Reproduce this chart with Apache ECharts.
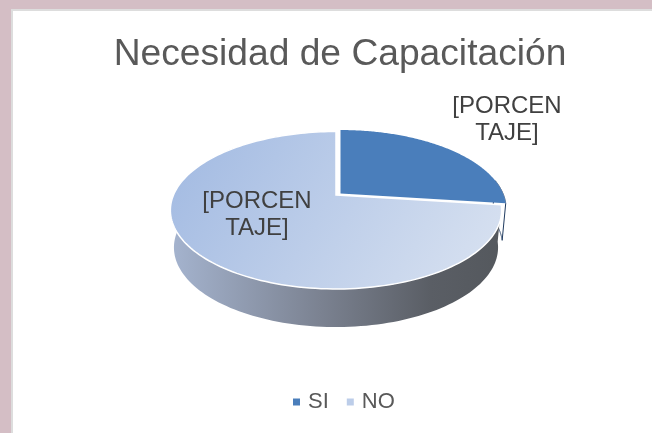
<!DOCTYPE html>
<html>
<head>
<meta charset="utf-8">
<style>
  html, body { margin: 0; padding: 0; background: #fff; }
  #main { width: 652px; height: 433px; }
</style>
<script src="https://cdn.jsdelivr.net/npm/echarts@6/dist/echarts.min.js"></script>
</head>
<body>
<div id="main"></div>
<script>
var categories = ['SI', 'NO']
var values = [27, 73]
var sliceLabels = ['[PORCEN\nTAJE]', '[PORCEN\nTAJE]']
var titleText = 'Necesidad de Capacitación'

var total = values.reduce(function (a, b) { return a + b }, 0)
var persp = -0.1937

// punto sobre el disco, con perspectiva como el pastel 3D de Excel
function rim (theta, level, dx, dy) {
  var t = -Math.cos(theta)
  var s = Math.sin(theta)
  var w = 1 + persp * t
  var cy = level === 0 ? 195 : 232
  var a = level === 0 ? 38 : 31.7
  var rx = level === 0 ? 162.5 : 159
  return [336 + dx + rx * s / w, (cy + a * t) / w + dy]
}

function arcPoints (from, to, level, dx, dy) {
  var pts = []
  var n = 160
  for (var i = 0; i <= n; i++) {
    pts.push(rim(from + (to - from) * i / n, level, dx, dy))
  }
  return pts
}

var wallFill = new echarts.graphic.LinearGradient(170, 0, 504, 0, [
  { offset: 0, color: '#a5b4cf' },
  { offset: 0.45, color: '#7b8291' },
  { offset: 0.78, color: '#5a5e65' },
  { offset: 1, color: '#54585d' }
], true)
var noFill = new echarts.graphic.LinearGradient(210, 130, 470, 290, [
  { offset: 0, color: '#a6bde3' },
  { offset: 1, color: '#d6e0f0' }
], true)

// wallSpan: cuanto arco de la pared se dibuja, medido desde el final del sector
var looks = [
  { fill: '#4a7ebb', wall: '#fff', wallStroke: '#1f3a5f', wallSpan: 0.3, dx: 4.5, dy: -1.5, stroke: 'none', label: [507, 120] },
  { fill: noFill, wall: wallFill, wallStroke: 'none', wallSpan: 7, dx: 0, dy: 0, stroke: '#fff', label: [257, 215] }
]

function sliceRenderer (index) {
  return function (params, api) {
    var before = 0
    for (var i = 0; i < index; i++) before += values[i]
    var from = before / total * Math.PI * 2
    var to = from + api.value(0) / total * Math.PI * 2
    var look = looks[index]
    var wallFrom = Math.max(from, to - look.wallSpan)
    var top = arcPoints(from, to, 0, look.dx, look.dy)
    var wallTop = arcPoints(wallFrom, to, 0, look.dx, look.dy)
    var wallBottom = arcPoints(wallFrom, to, 1, look.dx, look.dy).reverse()
    var apex = [336 + look.dx, 195 + look.dy]
    return {
      type: 'group',
      children: [
        {
          type: 'polygon',
          shape: { points: wallTop.concat(wallBottom) },
          style: { fill: look.wall, stroke: look.wallStroke, lineWidth: 1 }
        },
        {
          type: 'polygon',
          shape: { points: [apex].concat(top) },
          style: { fill: look.fill, stroke: look.stroke, lineWidth: 1.5 }
        },
        {
          type: 'text',
          style: {
            x: look.label[0],
            y: look.label[1],
            text: sliceLabels[index],
            align: 'center',
            verticalAlign: 'middle',
            fontFamily: 'Liberation Sans',
            fontSize: 24,
            lineHeight: 27,
            fill: '#404040'
          }
        }
      ]
    }
  }
}

var myChart = echarts.init(document.getElementById('main'))
myChart.setOption({
  animation: false,
  title: {
    text: titleText,
    left: 335,
    top: 31,
    textAlign: 'center',
    textStyle: { fontFamily: 'Liberation Sans', fontSize: 37.2, fontWeight: 'normal', color: '#595959' }
  },
  legend: {
    data: categories,
    left: 288,
    top: 386,
    icon: 'rect',
    itemWidth: 7,
    itemHeight: 7,
    itemGap: 18,
    itemStyle: { borderWidth: 0 },
    textStyle: { fontFamily: 'Liberation Sans', fontSize: 22, color: '#595959', padding: [0, 0, 0, 3] }
  },
  graphic: [
    { type: 'rect', z: -2, shape: { x: 0, y: 0, width: 652, height: 9 }, style: { fill: '#d4bec5' } },
    { type: 'rect', z: -2, shape: { x: 0, y: 0, width: 11, height: 433 }, style: { fill: '#d4bec5' } },
    { type: 'rect', z: -1, shape: { x: 11, y: 9, width: 641, height: 2 }, style: { fill: '#dddddd' } },
    { type: 'rect', z: -1, shape: { x: 11, y: 9, width: 2, height: 424 }, style: { fill: '#dddddd' } }
  ],
  series: categories.map(function (name, i) {
    return {
      type: 'custom',
      name: name,
      coordinateSystem: 'none',
      silent: true,
      itemStyle: { color: i === 0 ? '#4a7ebb' : '#bccde9' },
      renderItem: sliceRenderer(i),
      data: [[values[i]]]
    }
  })
})
</script>
</body>
</html>
